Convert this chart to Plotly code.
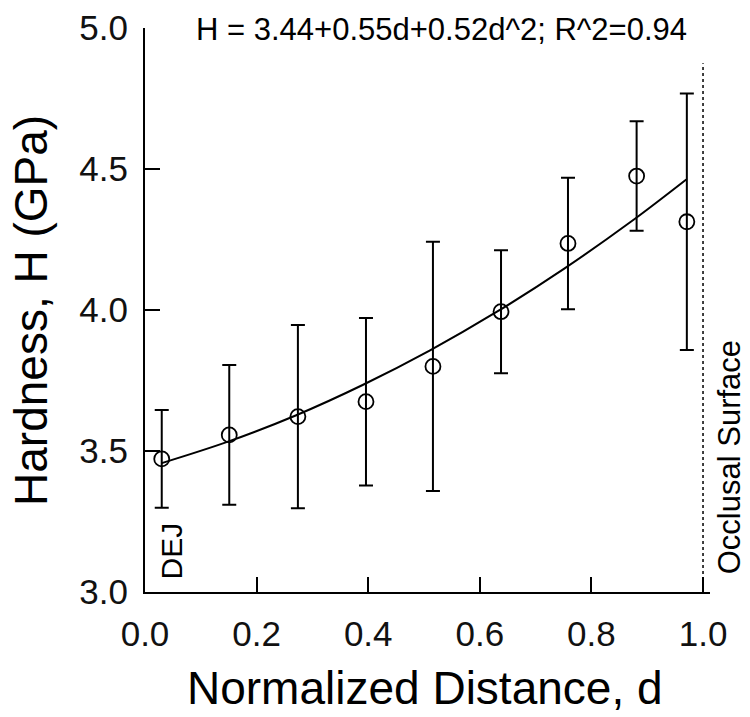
import plotly.graph_objects as go

# Measured data (normalized distance d, hardness H, GPa)
distance = [0.030, 0.151, 0.274, 0.396, 0.516, 0.638, 0.758, 0.881, 0.971]
hardness = [3.472, 3.557, 3.622, 3.675, 3.800, 3.994, 4.236, 4.475, 4.313]
hard_err = [0.173, 0.248, 0.325, 0.297, 0.442, 0.218, 0.233, 0.194, 0.455]

# Fitted curve
fit_d = [0.03, 0.15, 0.27, 0.39, 0.51, 0.63, 0.75, 0.87, 0.97]
fit_h = [3.457, 3.534, 3.626, 3.734, 3.856, 3.993, 4.145, 4.312, 4.463]

x_ticks = [0.0, 0.2, 0.4, 0.6, 0.8, 1.0]
x_tick_labels = ["0.0", "0.2", "0.4", "0.6", "0.8", "1.0"]
y_ticks = [3.0, 3.5, 4.0, 4.5, 5.0]
y_tick_labels = ["3.0", "3.5", "4.0", "4.5", "5.0"]

surface_d = 1.0
surface_line_top = 4.875

FONT = "Liberation Sans, Arial, Helvetica, sans-serif"

fig = go.Figure()

fig.add_trace(go.Scatter(
    x=fit_d, y=fit_h, mode="lines", line=dict(color="black", width=2, shape="spline"),
    hoverinfo="skip", showlegend=False))

fig.add_trace(go.Scatter(
    x=distance, y=hardness, mode="markers",
    marker=dict(symbol="circle-open", size=15, color="black", line=dict(width=1.8, color="black")),
    error_y=dict(type="data", array=hard_err, visible=True, color="black", thickness=2, width=7),
    showlegend=False))

fig.add_shape(type="line", x0=surface_d, x1=surface_d, y0=3.0, y1=surface_line_top,
              xref="x", yref="y", line=dict(color="black", width=1.5, dash="dot"))

fig.update_layout(
    width=750, height=717,
    margin=dict(l=145, r=40, t=28, b=125),
    paper_bgcolor="white", plot_bgcolor="white",
    font=dict(family=FONT, color="black"),
    xaxis=dict(range=[0, 1.0125], tickvals=x_ticks, ticktext=x_tick_labels,
               ticks="inside", ticklen=15, tickwidth=2, tickcolor="black",
               showline=True, linecolor="black", linewidth=2, showgrid=False, zeroline=False,
               automargin=False,
               tickfont=dict(size=35, family=FONT, color="#111"), ticklabelstandoff=10),
    yaxis=dict(range=[3.0, 5.0], tickvals=y_ticks, ticktext=y_tick_labels,
               ticks="inside", ticklen=15, tickwidth=2, tickcolor="black",
               showline=True, linecolor="black", linewidth=2, showgrid=False, zeroline=False,
               automargin=False,
               tickfont=dict(size=35, family=FONT, color="#111"), ticklabelstandoff=8),
)

anns = [
    dict(text="Hardness, H (GPa)", x=-0.2018, y=0.5, textangle=-90, size=46),
    dict(text="Normalized Distance, d", x=0.496, y=-0.17, textangle=0, size=46),
    dict(text="H = 3.44+0.55d+0.52d^2; R^2=0.94", x=0.524, y=0.997, textangle=0, size=31),
    dict(text="DEJ", x=0.046, y=0.0736, textangle=-90, size=30),
    dict(text="Occlusal Surface", x=1.035, y=0.2385, textangle=-90, size=31),
]
for a in anns:
    fig.add_annotation(text=a["text"], x=a["x"], y=a["y"], xref="paper", yref="paper",
                       xanchor="center", yanchor="middle", showarrow=False,
                       textangle=a["textangle"], font=dict(size=a["size"], family=FONT, color="black"))

fig.write_html("out.html", config={"displayModeBar": False},
               post_script="document.body.style.margin='0';document.body.style.overflow='hidden';")
